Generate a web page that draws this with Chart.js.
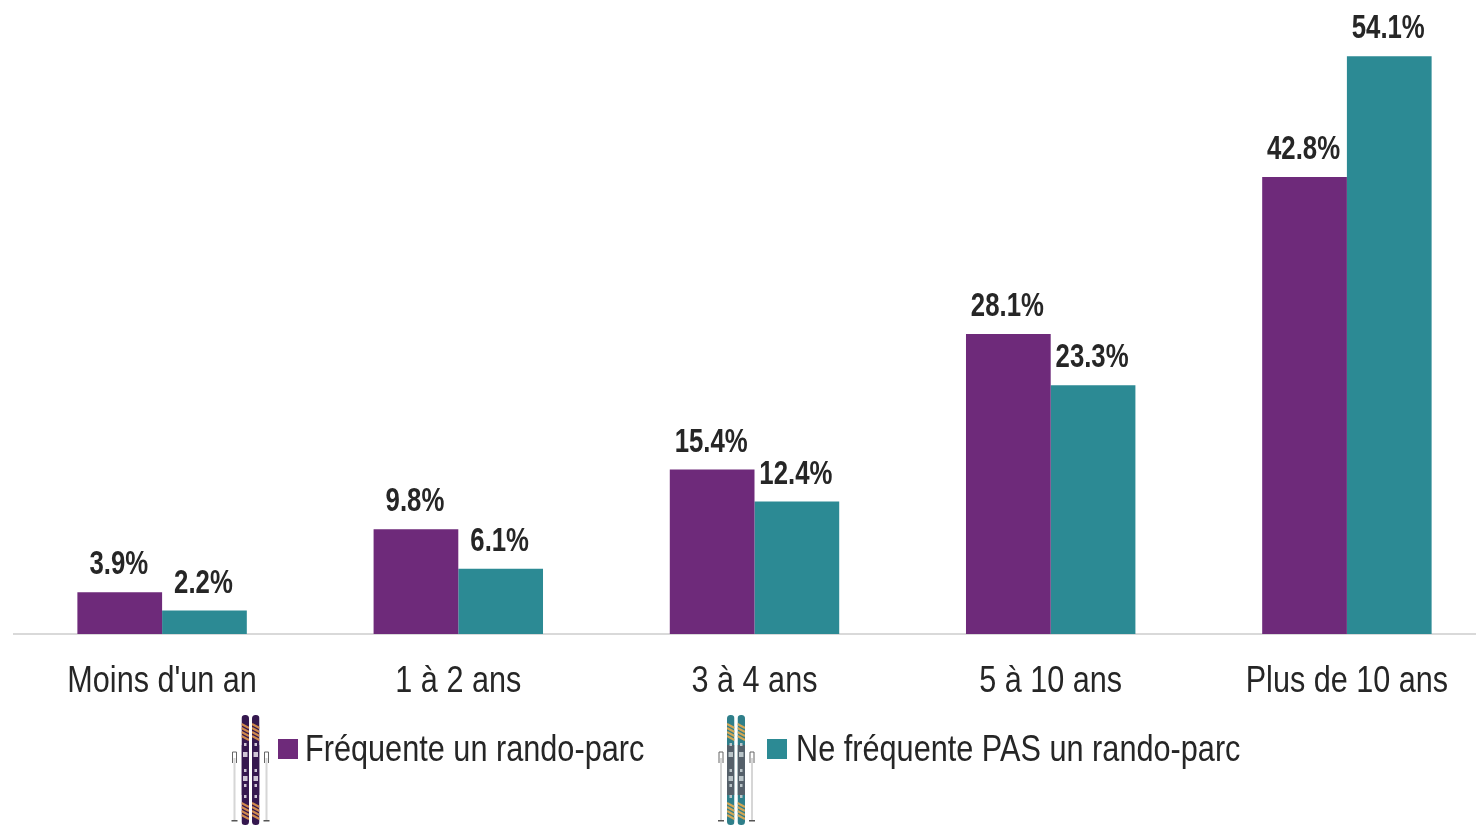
<!DOCTYPE html>
<html lang="fr">
<head>
<meta charset="utf-8">
<title>Rando-parc</title>
<style>
  html, body { margin: 0; padding: 0; background: #fff; overflow: hidden; }
  /* the last category runs past the right edge in the original, so the chart is wider than the page */
  #page { width: 1476px; height: 825px; overflow: hidden; }
  #wrap { position: relative; width: 1495px; height: 825px; }
</style>
<script src="https://cdn.jsdelivr.net/npm/chart.js@4/dist/chart.umd.min.js"></script>
</head>
<body>
<div id="page"><div id="wrap"><canvas id="chart"></canvas></div></div>
<script>
const categories = ["Moins d'un an", '1 à 2 ans', '3 à 4 ans', '5 à 10 ans', 'Plus de 10 ans'];
const frequente = [3.9, 9.8, 15.4, 28.1, 42.8];
const neFrequentePas = [2.2, 6.1, 12.4, 23.3, 54.1];
const seriesNames = ['Fréquente un rando-parc', 'Ne fréquente PAS un rando-parc'];

const PURPLE = '#6e2a7a';
const TEAL = '#2c8a94';
const TEXT = '#262626';
const FONT = '"Liberation Sans", sans-serif';

// No narrow font installed, so squeeze the text horizontally
function narrowText(ctx, str, x, y, squeeze) {
  ctx.save();
  ctx.translate(x, y);
  ctx.scale(squeeze, 1);
  ctx.fillText(str, 0, 0);
  ctx.restore();
}

// Value labels above each bar
const barLabels = {
  id: 'barLabels',
  afterDatasetsDraw(chart) {
    const ctx = chart.ctx;
    ctx.save();
    ctx.font = 'bold 33px ' + FONT;
    ctx.fillStyle = TEXT;
    ctx.textAlign = 'center';
    ctx.textBaseline = 'alphabetic';
    chart.data.datasets.forEach((ds, i) => {
      chart.getDatasetMeta(i).data.forEach((bar, j) => {
        narrowText(ctx, ds.data[j].toFixed(1) + '%', bar.x - 1, bar.y - 18, 0.78);
      });
    });
    ctx.restore();
  }
};

// Category labels, drawn here because the built-in ticks can't be squeezed
const categoryLabels = {
  id: 'categoryLabels',
  afterDraw(chart) {
    const ctx = chart.ctx;
    const xScale = chart.scales.x;
    ctx.save();
    ctx.font = '36px ' + FONT;
    ctx.fillStyle = TEXT;
    ctx.textAlign = 'center';
    ctx.textBaseline = 'alphabetic';
    chart.data.labels.forEach((label, i) => {
      narrowText(ctx, label, xScale.getPixelForTick(i), 692, 0.85);
    });
    ctx.restore();
  }
};

// One ski pair with poles, used as decoration next to the legend
function drawSkis(ctx, x, poleLeft, poleRight, body, middle, stripe, accent) {
  ctx.save();
  // poles
  [poleLeft, poleRight].forEach(px => {
    ctx.fillStyle = '#d6d6d6';
    ctx.fillRect(px, 758, 2, 63);
    ctx.strokeStyle = '#666';
    ctx.lineWidth = 1;
    ctx.beginPath();
    ctx.moveTo(px - 1, 763);
    ctx.lineTo(px - 1, 752);
    ctx.lineTo(px + 3, 752);
    ctx.lineTo(px + 3, 763);
    ctx.stroke();
    ctx.fillStyle = '#555';
    ctx.fillRect(px - 2, 820, 6, 1.5);
  });
  // skis
  [0, 10.5].forEach(dx => {
    ctx.save();
    ctx.beginPath();
    ctx.roundRect(x + dx, 715, 7.5, 110, 3.5);
    ctx.clip();
    ctx.fillStyle = body;
    ctx.fillRect(x + dx, 715, 7.5, 110);
    ctx.fillStyle = middle;
    ctx.fillRect(x + dx, 745, 7.5, 50);
    ctx.strokeStyle = stripe;
    ctx.lineWidth = 2;
    [724, 728, 732, 736, 803, 807, 811, 815].forEach(y => {
      ctx.beginPath();
      ctx.moveTo(x + dx, y);
      ctx.lineTo(x + dx + 7.5, y + 4);
      ctx.stroke();
    });
    ctx.fillStyle = accent;
    ctx.fillRect(x + dx + 1.5, 752, 4.5, 5);
    [743, 769, 784, 795].forEach(y => ctx.fillRect(x + dx + 2.5, y, 2.5, 3));
    ctx.fillRect(x + dx + 1.5, 776, 4.5, 5);
    ctx.restore();
  });
  ctx.restore();
}

// Legend with the ski pictures, the gap between the entries is wider than the built-in one
const skiLegend = {
  id: 'skiLegend',
  afterDraw(chart) {
    const ctx = chart.ctx;
    const entries = [
      { box: 278, text: 305, ski: 241.5, poles: [233.5, 265.5], body: '#35184f', middle: '#35184f', stripe: '#d18a4e', accent: '#cfc6d6' },
      { box: 767, text: 796, ski: 727, poles: [720, 751], body: '#2f7f8a', middle: '#55606a', stripe: '#d3a554', accent: '#b9c4c8' }
    ];
    ctx.save();
    ctx.font = '36px ' + FONT;
    ctx.textBaseline = 'alphabetic';
    ctx.textAlign = 'left';
    entries.forEach((e, i) => {
      drawSkis(ctx, e.ski, e.poles[0], e.poles[1], e.body, e.middle, e.stripe, e.accent);
      ctx.fillStyle = chart.data.datasets[i].backgroundColor;
      ctx.fillRect(e.box, 739, 20, 20);
      ctx.fillStyle = TEXT;
      narrowText(ctx, chart.data.datasets[i].label, e.text, 761, 0.852);
    });
    ctx.restore();
  }
};

new Chart(document.getElementById('chart'), {
  type: 'bar',
  data: {
    labels: categories,
    datasets: [
      { label: seriesNames[0], data: frequente, backgroundColor: PURPLE },
      { label: seriesNames[1], data: neFrequentePas, backgroundColor: TEAL }
    ]
  },
  options: {
    responsive: true,
    maintainAspectRatio: false,
    animation: false,
    layout: { padding: { left: 14, right: 0, top: 4, bottom: 0 } },
    categoryPercentage: 0.572,
    barPercentage: 1,
    plugins: {
      legend: { display: false },
      tooltip: { enabled: false }
    },
    scales: {
      x: {
        afterFit(scale) { scale.height = 191; },
        grid: { display: false },
        border: { color: '#d9d9d9', width: 2 },
        ticks: { display: false }
      },
      y: {
        display: false,
        min: 0,
        max: 59
      }
    }
  },
  plugins: [barLabels, categoryLabels, skiLegend]
});
</script>
</body>
</html>
